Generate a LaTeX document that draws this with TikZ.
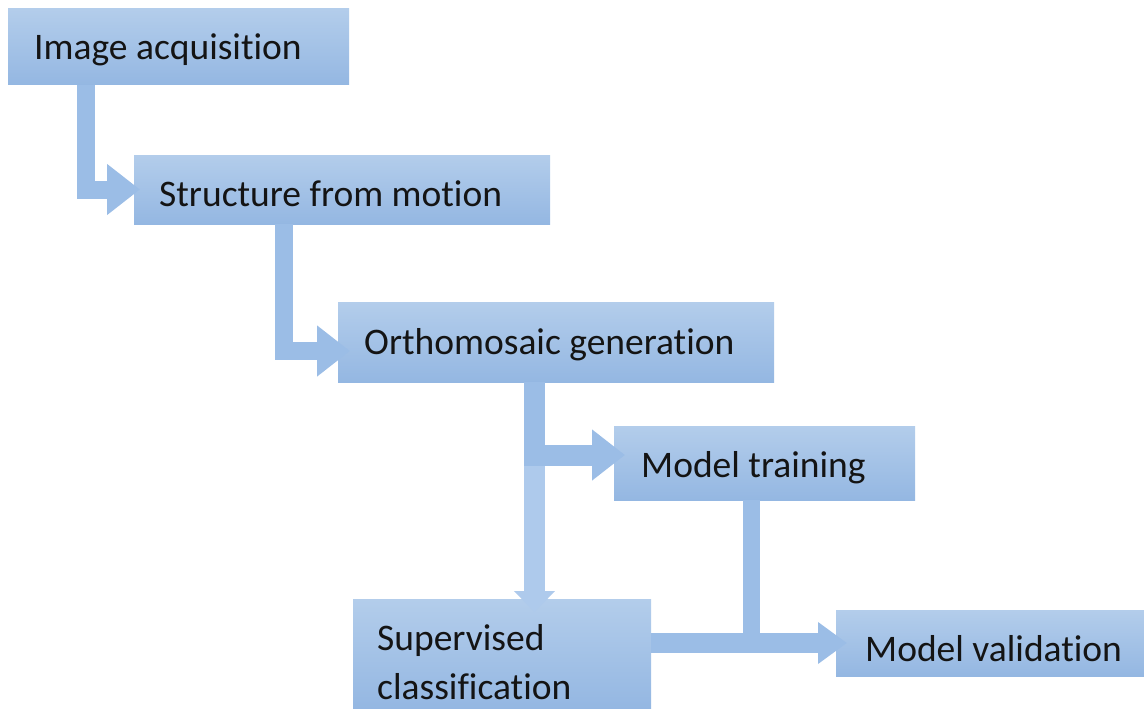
\documentclass[tikz,border=0pt]{standalone}
\usepackage{fontspec}
\setmainfont{Carlito}[Ligatures=NoCommon]
\usetikzlibrary{arrows.meta}
\definecolor{boxtop}{HTML}{B3CDEB}
\definecolor{boxbot}{HTML}{94B7E2}
\definecolor{arrcol}{HTML}{9BBDE6}
\definecolor{arrlight}{HTML}{AECAEC}
\definecolor{txt}{HTML}{141414}
\tikzset{
  box/.style={rectangle, inner sep=0pt, outer sep=0pt, top color=boxtop, bottom color=boxbot, draw=none},
  lbl/.style={anchor=base west, inner sep=0pt, text=txt, font=\fontsize{37.5}{48}\selectfont},
  bent/.style={draw=arrcol, line width=18pt, line join=miter, line cap=butt,
    -{Triangle[length=33pt,width=49pt]}},
  bar/.style={draw=arrcol, line width=17pt, line cap=butt},
}
\begin{document}
\begin{tikzpicture}[x=1pt,y=-1pt]
\useasboundingbox (0,0) rectangle (1144,709);
% boxes
\node[box, anchor=north west, minimum width=341pt, minimum height=76pt] (b1) at (8,9) {};
\node[box, anchor=north west, minimum width=416pt, minimum height=69pt] (b2) at (134,155) {};
\node[box, anchor=north west, minimum width=436pt, minimum height=80pt] (b3) at (338,302) {};
\node[box, anchor=north west, minimum width=301pt, minimum height=74pt] (b4) at (614,426) {};
\node[box, anchor=north west, minimum width=298pt, minimum height=110pt] (b5) at (353,599) {};
\node[box, anchor=north west, minimum width=308pt, minimum height=66pt] (b6) at (836,610) {};
% labels
\node[lbl] (t1) at (34,60) {Image acquisition};
\node[lbl] (t2) at (159,206) {Structure from motion};
\node[lbl] (t3) at (364,354) {Orthomosaic generation};
\node[lbl] (t4) at (641,477) {Model training};
\node[lbl] (t5) at (377,650) {Supervised};
\node[lbl] (t5b) at (377,699) {classification};
\node[lbl] (t6) at (865,661) {Model validation};
% connector x positions
\coordinate (a1) at (85.5,0);
\coordinate (a2) at (284,0);
\coordinate (a3) at (534.5,0);
\coordinate (a4) at (751,0);
% arrows
\draw[draw=arrlight, line width=21pt, line cap=butt, -{Triangle[length=21pt,width=40pt]}, shorten >=-13pt]
  (b3.south -| a3) -- (b5.north -| a3);
\draw[bent, shorten >=-6pt] (b1.south -| a1) |- (b2.west);
\draw[bent, shorten >=-12pt] (b2.south -| a2) |- ([yshift=-9pt]b3.west);
\draw[bent, line width=21pt, shorten >=-11pt] (b3.south -| a3) |- ([yshift=8pt]b4.west);
\draw[bar] (b4.south -| a4) -- (a4 |- b6.west);
\draw[bent, line width=20pt, -{Triangle[length=29pt,width=40pt]}, shorten >=-11pt] (b5.east |- b6.west) -- (b6.west);
\end{tikzpicture}
\end{document}
